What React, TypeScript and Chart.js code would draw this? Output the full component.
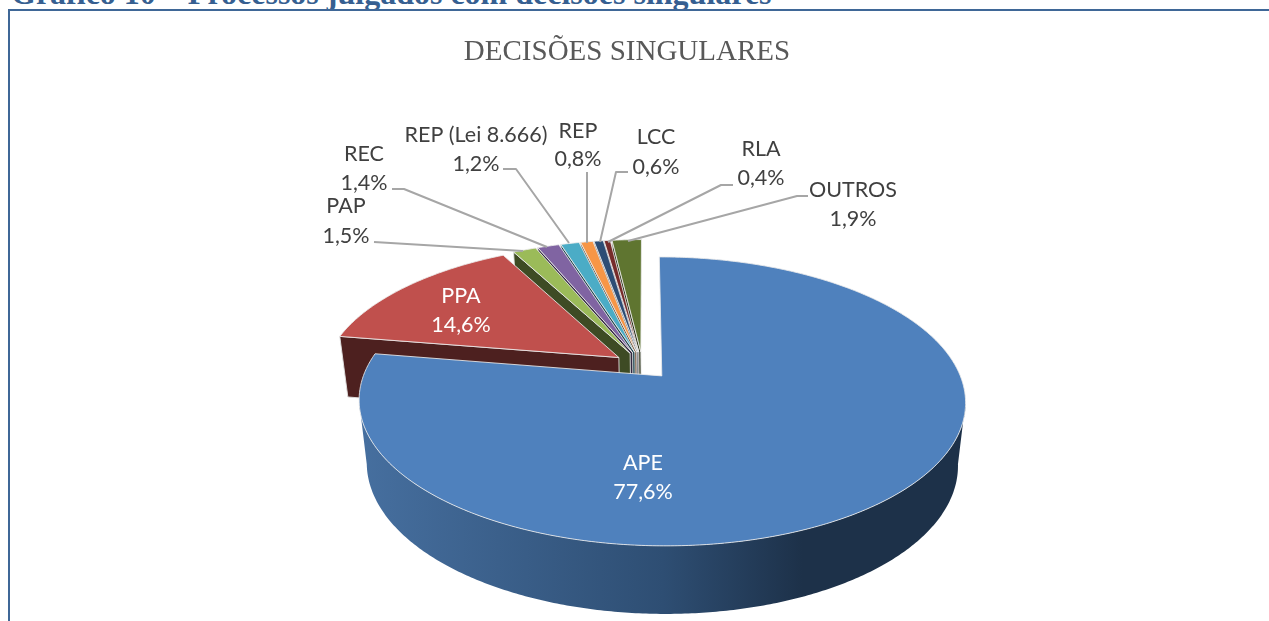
import React, { useEffect, useRef } from "react";
import Chart from "chart.js/auto";

const categories = ["APE", "PPA", "PAP", "REC", "REP (Lei 8.666)", "REP", "LCC", "RLA", "OUTROS"];
const shares = [77.6, 14.6, 1.5, 1.4, 1.2, 0.8, 0.6, 0.4, 1.9];
const colours = ["#4f81bd", "#c0504d", "#9bbb59", "#8064a2", "#4bacc6", "#f79646", "#2c4d75", "#772c2a", "#5f7530"];
const chartTitle = "DECISÕES SINGULARES";
const pageHeading = "Gráfico 10 – Processos julgados com decisões singulares";

// label layout: centre x, y of first line, y of second line, leader elbow (none for inside labels)
const labelLayout: { x: number; y1: number; y2: number; lead?: number[][]; inside?: boolean }[] = [
  { x: 643, y1: 463, y2: 492, inside: true },
  { x: 461, y1: 296, y2: 325, inside: true },
  { x: 346, y1: 206, y2: 236, lead: [[374, 242], [523, 251]] },
  { x: 364, y1: 154, y2: 183, lead: [[392, 189], [404, 189], [547, 247]] },
  { x: 476, y1: 135, y2: 164, lead: [[503, 169], [516, 169], [569, 243]] },
  { x: 578, y1: 131, y2: 159, lead: [[587, 172], [587, 243]] },
  { x: 656, y1: 137, y2: 167, lead: [[628, 172], [616, 172], [600, 242]] },
  { x: 761, y1: 149, y2: 178, lead: [[733, 185], [721, 185], [608, 242]] },
  { x: 853, y1: 190, y2: 219, lead: [[808, 196], [797, 196], [628, 241]] },
];

// perspective projection of the unit disc
const P = 0.1765;
const SHEAR = 3;
const EXPLODE = 0.1;
const ORIGIN = [-0.0653, -0.077];
const TOP = { x0: 662, y0: 376, a: 298.5, b: 140 };
const BOTTOM = { x0: 662, y0: 438, a: 291, b: 145 };

type Plane = typeof TOP;
const project = (u: number, v: number, s: Plane) => {
  const w = 1 - P * v;
  return [s.x0 + (s.a * u + SHEAR * v) / w, s.y0 + (s.b * v) / w];
};
const dir = (t: number) => [Math.sin(t), -Math.cos(t)];
const shade = (hex: string, f: number) => {
  const n = parseInt(hex.slice(1), 16);
  const c = [(n >> 16) & 255, (n >> 8) & 255, n & 255].map((q) => Math.round(q * f));
  return `rgb(${c[0]},${c[1]},${c[2]})`;
};

const pie3d = {
  id: "pie3d",
  beforeDatasetDraw(chart: any) {
    const ctx: CanvasRenderingContext2D = chart.ctx;
    const arcs = chart.getDatasetMeta(0).data;
    const geo = arcs.map((a: any) => {
      const t0 = a.startAngle + Math.PI / 2;
      const t1 = a.endAngle + Math.PI / 2;
      const m = dir((t0 + t1) / 2);
      return { t0, t1, ox: ORIGIN[0] + EXPLODE * m[0], oy: ORIGIN[1] + EXPLODE * m[1], fill: a.options.backgroundColor };
    });
    const poly = (pts: number[][]) => {
      ctx.beginPath();
      pts.forEach((p, i) => (i ? ctx.lineTo(p[0], p[1]) : ctx.moveTo(p[0], p[1])));
      ctx.closePath();
    };
    const rim = (g: any, t: number, s: Plane) => {
      const d = dir(t);
      return project(g.ox + d[0], g.oy + d[1], s);
    };
    const arcPts = (g: any, a: number, b: number, s: Plane) => {
      const n = Math.max(2, Math.ceil(Math.abs(b - a) / 0.01));
      const out: number[][] = [];
      for (let i = 0; i <= n; i++) out.push(rim(g, a + ((b - a) * i) / n, s));
      return out;
    };
    const drawSlice = (g: any, i: number) => {
      // radial wall on the slice's left side
      if (i > 0) {
        poly([project(g.ox, g.oy, TOP), rim(g, g.t0, TOP), rim(g, g.t0, BOTTOM), project(g.ox, g.oy, BOTTOM)]);
        ctx.fillStyle = shade(colours[i], 0.4);
        ctx.fill();
        ctx.strokeStyle = "rgba(225,225,225,0.9)";
        ctx.lineWidth = 1;
        ctx.stroke();
      } else {
        // outer wall of the front of the big slice, between its two silhouette tangents
        const a = Math.acos(-P);
        poly([...arcPts(g, a, 2 * Math.PI - a, TOP), ...arcPts(g, 2 * Math.PI - a, a, BOTTOM)]);
        const grad = ctx.createLinearGradient(361, 0, 966, 0);
        grad.addColorStop(0, "#466f9f");
        grad.addColorStop(0.5, "#2e4e73");
        grad.addColorStop(0.73, "#1d3149");
        grad.addColorStop(1, "#1d3149");
        ctx.fillStyle = grad;
        ctx.fill();
      }
      // top surface
      poly([project(g.ox, g.oy, TOP), ...arcPts(g, g.t0, g.t1, TOP)]);
      ctx.fillStyle = g.fill;
      ctx.fill();
      ctx.strokeStyle = "rgba(235,235,235,0.85)";
      ctx.lineWidth = 1;
      ctx.stroke();
    };
    ctx.save();
    ctx.lineJoin = "round";
    for (let i = geo.length - 1; i >= 0; i--) drawSlice(geo[i], i);

    // leader lines
    ctx.strokeStyle = "#a6a6a6";
    ctx.lineWidth = 2;
    labelLayout.forEach((l) => {
      if (!l.lead) return;
      ctx.beginPath();
      l.lead.forEach((p, i) => (i ? ctx.lineTo(p[0], p[1]) : ctx.moveTo(p[0], p[1])));
      ctx.stroke();
    });

    // value labels
    ctx.font = '21.5px Lato, "Noto Sans", sans-serif';
    ctx.textAlign = "center";
    ctx.textBaseline = "middle";
    labelLayout.forEach((l, i) => {
      ctx.fillStyle = l.inside ? "#ffffff" : "#404040";
      ctx.fillText(categories[i], l.x, l.y1);
      ctx.fillText(shares[i].toFixed(1).replace(".", ",") + "%", l.x, l.y2);
    });
    ctx.restore();
    return false;
  },
};

export default function App() {
  const ref = useRef<HTMLCanvasElement>(null);
  useEffect(() => {
    document.body.style.overflow = "hidden";
    const chart = new Chart(ref.current!, {
      type: "pie",
      data: {
        labels: categories,
        datasets: [{ data: shares, backgroundColor: colours, borderColor: "#ffffff", borderWidth: 1 }],
      },
      options: {
        responsive: false,
        animation: false,
        layout: { padding: 0 },
        plugins: {
          legend: { display: false },
          tooltip: { enabled: false },
          title: {
            display: true,
            text: chartTitle,
            color: "#595959",
            font: { family: '"Liberation Serif", serif', size: 29, weight: "normal" },
            padding: { top: 35, bottom: 0 },
          },
        },
      },
      plugins: [pie3d],
    } as any);
    return () => chart.destroy();
  }, []);
  return (
    <div style={{ position: "fixed", inset: 0, background: "#fff", overflow: "hidden" }}>
      <div
        style={{
          position: "absolute",
          left: 11,
          top: -25,
          font: 'bold 32px "Liberation Serif", serif',
          color: "#365f91",
          whiteSpace: "nowrap",
        }}
      >
        {pageHeading}
      </div>
      <div
        style={{
          position: "absolute",
          left: 8,
          top: 9,
          width: 1300,
          height: 700,
          borderLeft: "2px solid #3f6797",
          borderTop: "2px solid #3f6797",
        }}
      />
      <canvas
        ref={ref}
        width={1254}
        height={621}
        style={{ position: "absolute", left: 0, top: 0, width: 1254, height: 621 }}
      />
    </div>
  );
}
